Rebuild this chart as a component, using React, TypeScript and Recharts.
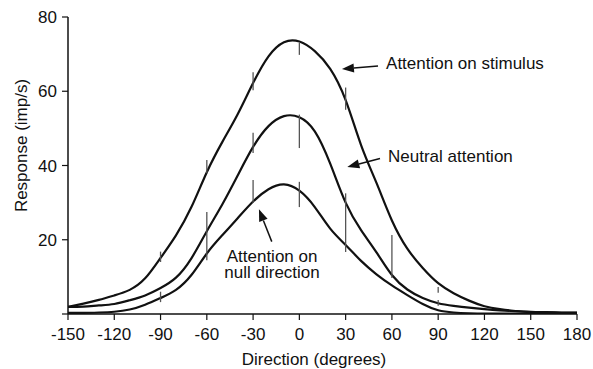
import {
  ComposedChart,
  Line,
  Scatter,
  ErrorBar,
  XAxis,
  YAxis,
  ReferenceLine,
  ReferenceDot,
  Label,
} from "recharts";

// fitted tuning curves, every 10 degrees
const directions = [
  -150, -140, -130, -120, -110, -100, -90, -80, -70, -60, -50, -40, -30, -20, -10, 0, 10,
  20, 30, 40, 50, 60, 70, 80, 90, 100, 110, 120, 130, 140, 150, 160, 170, 180,
];
const attendStimulus = [
  1.9, 2.8, 3.8, 5.0, 6.5, 9.6, 15.1, 21.2, 28.8, 38.2, 46.3, 53.8, 62.2, 69.4, 73.2, 73.4, 70.8,
  66.0, 57.6, 45.5, 35.3, 25.2, 17.6, 12.4, 8.3, 5.6, 3.6, 2.1, 1.3, 0.8, 0.5, 0.4, 0.3, 0.3,
];
const neutralAttention = [
  1.9, 2.0, 2.3, 2.7, 3.7, 5.0, 7.0, 9.8, 15.0, 22.3, 29.5, 37.3, 45.0, 50.6, 53.3, 53.0, 49.2,
  40.5, 30.0, 22.6, 16.6, 10.5, 6.6, 4.3, 2.9, 2.2, 1.7, 1.3, 1.0, 0.8, 0.6, 0.5, 0.4, 0.35,
];
const attendNull = [
  0.3, 0.3, 0.4, 0.6, 1.2, 2.5, 4.3, 6.5, 10.5, 16.3, 21.2, 25.8, 30.3, 33.6, 34.9, 33.2, 28.8,
  23.0, 18.6, 14.3, 10.7, 7.7, 5.1, 2.7, 1.0, 0.4, 0.2, 0.1, 0.1, 0.1, 0.1, 0.1, 0.1, 0.1,
];

// measured points (mean +/- SEM)
const semDirections = [-90, -60, -30, 0, 30, 90, -60, -30, 0, 30, 60, 90, -90, -30, 0];
const semMeans = [15.4, 39.7, 62.7, 71.4, 58, 6.5, 21, 46.1, 49.2, 24.6, 15.5, 3, 4.6, 33, 32.2];
const semErrors = [1.4, 1.8, 2.4, 1.6, 3, 0.8, 6.5, 2.7, 4.5, 7.9, 5.8, 0.8, 1.4, 3.1, 3.4];

const xTicks = [-150, -120, -90, -60, -30, 0, 30, 60, 90, 120, 150, 180];
const yTicks = [0, 20, 40, 60, 80];

const curves = directions.map((deg, i) => ({
  deg,
  stimulus: attendStimulus[i],
  neutral: neutralAttention[i],
  nullDir: attendNull[i],
}));

const points = semDirections.map((deg, i) => ({
  deg,
  mean: semMeans[i],
  err: semErrors[i],
}));

const FONT = "'Liberation Sans', Arial, Helvetica, sans-serif";
const INK = "#111";

function Arrow(props: any) {
  const { x1, y1, x2, y2 } = props;
  const dx = x2 - x1;
  const dy = y2 - y1;
  const len = Math.hypot(dx, dy) || 1;
  const ux = dx / len;
  const uy = dy / len;
  const head = 12;
  const half = 4.5;
  const bx = x2 - ux * head;
  const by = y2 - uy * head;
  return (
    <g>
      <line x1={x1} y1={y1} x2={bx} y2={by} stroke={INK} strokeWidth={1.5} />
      <polygon
        points={`${x2},${y2} ${bx - uy * half},${by + ux * half} ${bx + uy * half},${by - ux * half}`}
        fill={INK}
      />
    </g>
  );
}

function note(text: string, anchor: "start" | "middle") {
  return (p: any) => (
    <text x={p.cx} y={p.cy} textAnchor={anchor} fontFamily={FONT} fontSize={17} fill={INK}>
      {text}
    </text>
  );
}

export default function App() {
  return (
    <div style={{ position: "absolute", left: 0, top: 0 }}>
      <ComposedChart
        width={593}
        height={369}
        data={curves}
        margin={{ top: 17, right: 16, bottom: 15, left: 8 }}
      >
        <XAxis
          type="number"
          dataKey="deg"
          domain={[-150, 180]}
          ticks={xTicks}
          allowDataOverflow
          height={40}
          tickSize={6}
          tickMargin={8}
          axisLine={{ stroke: INK, strokeWidth: 1.5 }}
          tickLine={{ stroke: INK, strokeWidth: 1.2 }}
          tick={{ fill: INK, fontSize: 17, fontFamily: FONT }}
        >
          <Label
            content={({ viewBox }: any) => (
              <text
                x={viewBox.x + viewBox.width / 2 - 8.5}
                y={viewBox.y + 51}
                textAnchor="middle"
                fontFamily={FONT}
                fontSize={17}
                fill={INK}
              >
                Direction (degrees)
              </text>
            )}
          />
        </XAxis>
        <YAxis
          type="number"
          domain={[0, 80]}
          ticks={yTicks}
          allowDataOverflow
          width={60}
          tickSize={6}
          tickMargin={5}
          tickFormatter={(v: number) => (v === 0 ? "" : String(v))}
          axisLine={{ stroke: INK, strokeWidth: 1.5 }}
          tickLine={{ stroke: INK, strokeWidth: 1.2 }}
          tick={{ fill: INK, fontSize: 17, fontFamily: FONT }}
        >
          <Label
            content={({ viewBox }: any) => {
              const x = viewBox.x + 18.5;
              const y = viewBox.y + viewBox.height / 2 - 20;
              return (
                <text
                  x={x}
                  y={y}
                  transform={`rotate(-90, ${x}, ${y})`}
                  textAnchor="middle"
                  fontFamily={FONT}
                  fontSize={17}
                  fill={INK}
                >
                  Response (imp/s)
                </text>
              );
            }}
          />
        </YAxis>

        <Line type="natural" dataKey="stimulus" stroke={INK} strokeWidth={2.2} dot={false} activeDot={false} isAnimationActive={false} />
        <Line type="natural" dataKey="neutral" stroke={INK} strokeWidth={2.2} dot={false} activeDot={false} isAnimationActive={false} />
        <Line type="natural" dataKey="nullDir" stroke={INK} strokeWidth={2.2} dot={false} activeDot={false} isAnimationActive={false} />

        <Scatter data={points} dataKey="mean" shape={() => <g />} isAnimationActive={false}>
          <ErrorBar dataKey="err" direction="y" width={0} stroke="#555" strokeWidth={1.3} isAnimationActive={false} />
        </Scatter>

        <ReferenceLine segment={[{ x: 51, y: 66.8 }, { x: 27.6, y: 66 }]} shape={Arrow} />
        <ReferenceLine segment={[{ x: 52.3, y: 41.9 }, { x: 31.1, y: 39.6 }]} shape={Arrow} />
        <ReferenceLine segment={[{ x: -17.9, y: 19.5 }, { x: -26.2, y: 28.2 }]} shape={Arrow} />

        <ReferenceDot x={56.2} y={65.9} r={0} shape={note("Attention on stimulus", "start")} />
        <ReferenceDot x={57.5} y={41} r={0} shape={note("Neutral attention", "start")} />
        <ReferenceDot x={-17.7} y={14.1} r={0} shape={note("Attention on", "middle")} />
        <ReferenceDot x={-17.7} y={9.6} r={0} shape={note("null direction", "middle")} />
      </ComposedChart>
    </div>
  );
}
